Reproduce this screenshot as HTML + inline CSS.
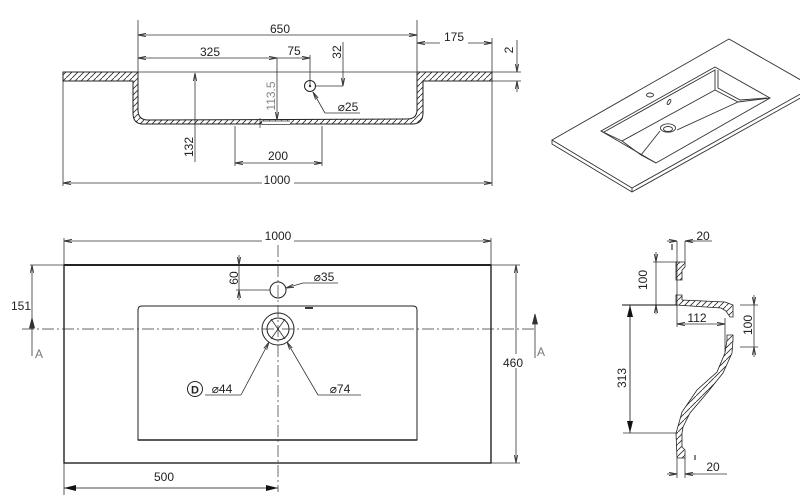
<!DOCTYPE html>
<html><head><meta charset="utf-8"><style>
html,body{margin:0;padding:0;background:#fff;}
svg{display:block;}
text{font-family:"Liberation Sans",sans-serif;font-size:12px;fill:#222;}
</style></head><body>
<svg width="800" height="498" viewBox="0 0 800 498" xmlns="http://www.w3.org/2000/svg">
<defs>
<pattern id="h" patternUnits="userSpaceOnUse" width="6" height="6">
<path d="M-1,7 L7,-1" stroke="#333" stroke-width="0.9"/>
</pattern>
<marker id="a" viewBox="0 0 8 4" refX="8" refY="2" markerWidth="8" markerHeight="4" orient="auto-start-reverse" markerUnits="userSpaceOnUse">
<path d="M0,0.4 L8,2 L0,3.6" fill="none" stroke="#333" stroke-width="0.9"/>
</marker>
<marker id="f" viewBox="0 0 12 6" refX="12" refY="3" markerWidth="12" markerHeight="6" orient="auto-start-reverse" markerUnits="userSpaceOnUse">
<path d="M0,0 L12,3 L0,6 Z" fill="#111"/>
</marker>
</defs>

<g fill="none" stroke="#333" stroke-width="0.8">
<!-- ===== SECTION VIEW (top-left) ===== -->
<path d="M63,72 L138,72 L138,110 Q138,120 148,120 L407,119 Q417,119 417,110 L417,72 L492,72 L492,81 L423,81 L423,113 Q423,124 412,124 L143,124 Q133,124 133,113 L133,81 L63,81 Z" fill="url(#h)" stroke="#222" stroke-width="1"/>
<line x1="63" y1="72" x2="492" y2="72" stroke-width="0.7"/>
<rect x="262" y="120.5" width="28" height="4" fill="#fff" stroke="none"/>
<path d="M258,124.5 L262,121 L290,121 M262,124.5 L290,124.5" stroke-width="0.8"/>
<line x1="260" y1="118" x2="260" y2="128" stroke-width="0.7"/>
<line x1="63" y1="81" x2="63" y2="186"/>
<line x1="492" y1="38" x2="492" y2="186"/>
<line x1="138" y1="20" x2="138" y2="72"/>
<line x1="417" y1="20" x2="417" y2="72"/>
<line x1="138" y1="35" x2="417" y2="35" marker-start="url(#a)" marker-end="url(#a)"/>
<line x1="138" y1="58" x2="277" y2="58" marker-start="url(#a)" marker-end="url(#a)"/>
<line x1="277" y1="58" x2="310" y2="58" marker-end="url(#a)"/>
<line x1="310" y1="55" x2="310" y2="86"/>
<line x1="277" y1="58" x2="277" y2="120" marker-end="url(#a)"/>
<circle cx="310" cy="86" r="5.5" stroke="#222" stroke-width="1"/>
<circle cx="310" cy="86" r="0.8" fill="#222"/>
<line x1="316" y1="86" x2="343" y2="86"/>
<line x1="343" y1="42" x2="343" y2="86" marker-end="url(#a)"/>
<polyline points="325,113 313,92" marker-end="url(#a)"/>
<line x1="325" y1="113" x2="360" y2="113"/>
<line x1="195" y1="162" x2="195" y2="73" marker-end="url(#a)"/>
<line x1="235" y1="126" x2="235" y2="166"/>
<line x1="322" y1="126" x2="322" y2="166"/>
<line x1="235" y1="163" x2="322" y2="163" marker-start="url(#a)" marker-end="url(#a)"/>
<line x1="63" y1="183" x2="492" y2="183" marker-start="url(#a)" marker-end="url(#a)"/>
<line x1="417" y1="43" x2="492" y2="43" marker-start="url(#a)" marker-end="url(#a)"/>
<line x1="492" y1="72" x2="521" y2="72"/>
<line x1="492" y1="81" x2="521" y2="81"/>
<line x1="517" y1="40" x2="517" y2="72" marker-end="url(#a)"/>
<line x1="517" y1="92" x2="517" y2="81" marker-end="url(#a)"/>

<!-- ===== ISOMETRIC VIEW ===== -->
<g stroke="#333" stroke-width="0.9">
<polygon points="552,140 729,39 813,87 632,188"/>
<polyline points="552,140 552,144 632,192 813,91"/>
<line x1="632" y1="188" x2="632" y2="192"/>
<polygon points="601,131 715,67 770,98 656,163"/>
<polyline points="604,132 715,70 715,90 622,141 601,131"/>
<polyline points="718,70 718,88 740,100 767,98"/>
<polyline points="715,90 738,102 770,98"/>
<line x1="738" y1="102" x2="677" y2="130"/>
<line x1="622" y1="141" x2="641" y2="155"/>
<line x1="641" y1="155" x2="660" y2="131"/>
<line x1="641" y1="155" x2="656" y2="163"/>
<ellipse cx="668" cy="128" rx="7.5" ry="4.2"/>
<ellipse cx="668" cy="129" rx="4.5" ry="2.5"/>
<ellipse cx="650" cy="95" rx="3.5" ry="2"/>
<ellipse cx="669" cy="102" rx="1.3" ry="2.8" transform="rotate(30 669 102)"/>
</g>

<!-- ===== PLAN VIEW ===== -->
<rect x="64" y="265" width="427" height="198" stroke="#222" stroke-width="1.4"/>
<line x1="64" y1="265" x2="491" y2="265" stroke="#222" stroke-width="2"/>
<path d="M138,440 L138,310 Q138,306 142,306 L413,306 Q417,306 417,310 L417,440 Z" stroke="#222" stroke-width="1"/>
<line x1="138" y1="440" x2="417" y2="440" stroke="#222" stroke-width="1.5"/>
<line x1="305" y1="308" x2="313" y2="308" stroke="#222" stroke-width="1.8"/>
<line x1="278" y1="245" x2="278" y2="492" stroke-width="0.7" stroke-dasharray="12 3 2 3"/>
<line x1="22" y1="329" x2="535" y2="329" stroke-width="0.7" stroke-dasharray="12 3 2 3"/>
<line x1="64" y1="238" x2="64" y2="265"/>
<line x1="491" y1="238" x2="491" y2="265"/>
<line x1="64" y1="241" x2="491" y2="241" marker-start="url(#a)" marker-end="url(#a)"/>
<circle cx="278" cy="290" r="8" stroke="#222" stroke-width="1"/>
<line x1="236" y1="290" x2="270" y2="290"/>
<line x1="239" y1="255" x2="239" y2="265" marker-end="url(#a)"/>
<line x1="239" y1="300" x2="239" y2="290" marker-end="url(#a)"/>
<line x1="239" y1="265" x2="239" y2="290"/>
<polyline points="303,283 286,288" marker-end="url(#a)"/>
<line x1="303" y1="283" x2="338" y2="283"/>
<circle cx="278" cy="329" r="16" stroke="#222" stroke-width="1"/>
<circle cx="278" cy="329" r="11" stroke="#222" stroke-width="1"/>
<line x1="271" y1="319" x2="285" y2="339"/>
<line x1="285" y1="319" x2="271" y2="339"/>
<polyline points="241,395 269,342" marker-end="url(#a)"/>
<line x1="205" y1="395" x2="241" y2="395"/>
<polyline points="318,395 287,342" marker-end="url(#a)"/>
<line x1="318" y1="395" x2="361" y2="395"/>
<circle cx="195" cy="389" r="7.5" stroke="#222" stroke-width="1"/>
<line x1="30" y1="265" x2="64" y2="265"/>
<line x1="32" y1="329" x2="32" y2="265" marker-end="url(#a)"/>
<line x1="32" y1="322" x2="32" y2="356"/>
<path d="M32,318 L29.5,328 L34.5,328 Z" fill="#333"/>
<line x1="535" y1="318" x2="535" y2="358"/>
<path d="M535,314 L532.5,324 L537.5,324 Z" fill="#333"/>
<line x1="491" y1="265" x2="520" y2="265"/>
<line x1="491" y1="463" x2="520" y2="463"/>
<line x1="516" y1="265" x2="516" y2="463" marker-start="url(#a)" marker-end="url(#a)"/>
<line x1="64" y1="463" x2="64" y2="495"/>
<line x1="64" y1="488" x2="278" y2="488" stroke="#111" marker-start="url(#f)" marker-end="url(#f)"/>

<!-- ===== SIDE SECTION ===== -->
<polygon points="676,262 685,262 685,267 682,270 682,280 676,280" fill="url(#h)" stroke="#222"/>
<polygon points="676,295 682,295 682,300 725,302 733,305 733,317 730,317 726,311 721,308 676,305" fill="url(#h)" stroke="#222"/>
<path d="M727,335 L733,335 L733,340 L732,353 L723,373 L707,393 L690,413 L683,427 L682,433 L682,447 L685,450 L685,458 L677,458 L676,433 L677,430 L682,412 L697,390 L717,372 L725,353 L727,340 Z" fill="url(#h)" stroke="#222"/>
<line x1="677" y1="241" x2="677" y2="327"/>
<line x1="685" y1="241" x2="685" y2="262"/>
<line x1="667" y1="241" x2="677" y2="241" marker-end="url(#a)"/>
<line x1="695" y1="241" x2="685" y2="241" marker-end="url(#a)"/>
<line x1="685" y1="241" x2="712" y2="241"/>
<line x1="672" y1="244" x2="672" y2="250" stroke-width="1.2"/>
<line x1="653" y1="262" x2="677" y2="262"/>
<line x1="656" y1="252" x2="656" y2="262" marker-end="url(#a)"/>
<line x1="656" y1="262" x2="656" y2="305"/>
<line x1="656" y1="314" x2="656" y2="305" marker-end="url(#a)"/>
<line x1="622" y1="305" x2="677" y2="305" stroke="#111" stroke-width="1.1"/>
<line x1="630" y1="305" x2="630" y2="433" stroke="#111" marker-start="url(#f)" marker-end="url(#f)"/>
<line x1="623" y1="433" x2="677" y2="433"/>
<line x1="725" y1="318" x2="725" y2="352"/>
<line x1="677" y1="324" x2="725" y2="324" marker-start="url(#a)" marker-end="url(#a)"/>
<line x1="740" y1="305" x2="758" y2="305"/>
<line x1="740" y1="347" x2="758" y2="347"/>
<line x1="754" y1="295" x2="754" y2="305" marker-end="url(#a)"/>
<line x1="754" y1="305" x2="754" y2="347"/>
<line x1="754" y1="357" x2="754" y2="347" marker-end="url(#a)"/>
<line x1="677" y1="458" x2="677" y2="478"/>
<line x1="685" y1="458" x2="685" y2="478"/>
<line x1="667" y1="474" x2="677" y2="474" marker-end="url(#a)"/>
<line x1="695" y1="474" x2="685" y2="474" marker-end="url(#a)"/>
<line x1="685" y1="474" x2="727" y2="474"/>
<line x1="695" y1="455" x2="695" y2="460" stroke-width="1.2"/>
</g>

<!-- ===== TEXT ===== -->
<g text-anchor="middle">
<text x="280" y="33">650</text>
<text x="210" y="56">325</text>
<text x="294" y="55">75</text>
<text x="271" y="96" transform="rotate(-90 271 96)" dy="4" style="fill:#888">113.5</text>
<text x="337" y="52" transform="rotate(-90 337 52)" dy="4">32</text>
<text x="348" y="111">⌀25</text>
<text x="189" y="147" transform="rotate(-90 189 147)" dy="4">132</text>
<text x="278" y="160">200</text>
<rect x="262" y="173" width="32" height="14" fill="#fff"/>
<text x="277" y="184">1000</text>
<rect x="440" y="36" width="28" height="12" fill="#fff"/>
<text x="454" y="41">175</text>
<text x="509" y="50" transform="rotate(-90 509 50)" dy="4">2</text>

<rect x="262" y="231" width="32" height="14" fill="#fff"/>
<text x="278" y="240">1000</text>
<text x="234" y="278" transform="rotate(-90 234 278)" dy="4">60</text>
<text x="324" y="281">⌀35</text>
<text x="21" y="310">151</text>
<text x="39" y="358" style="fill:#777">A</text>
<text x="541" y="356" style="fill:#777">A</text>
<rect x="502" y="354" width="24" height="14" fill="#fff"/>
<text x="513" y="367">460</text>
<text x="195" y="393.5" style="font-weight:bold;font-size:11px">D</text>
<text x="222" y="393">⌀44</text>
<text x="340" y="393">⌀74</text>
<text x="164" y="481">500</text>

<text x="703" y="240">20</text>
<text x="643" y="280" transform="rotate(-90 643 280)" dy="4">100</text>
<text x="697" y="322">112</text>
<text x="748" y="325" transform="rotate(-90 748 325)" dy="4">100</text>
<text x="622" y="378" transform="rotate(-90 622 378)" dy="4">313</text>
<text x="713" y="471">20</text>
</g>
</svg>
</body></html>
